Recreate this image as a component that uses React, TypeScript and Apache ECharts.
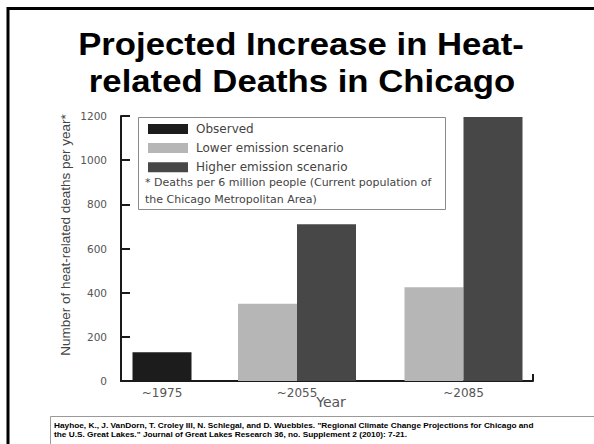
import React, { useEffect, useRef } from "react";
import * as echarts from "echarts";

// ---- data ----
const categories = ["~1975", "~2055", "~2085"];
const seriesNames = ["Observed", "Lower emission scenario", "Higher emission scenario"];
const observed = [130, null, null];
const lowerEmission = [null, 350, 425];
const higherEmission = [null, 710, 1195];
const yTicks = [0, 200, 400, 600, 800, 1000, 1200];

const titleLines = ["Projected Increase in Heat-", "related Deaths in Chicago"];
const noteLines = [
  "* Deaths per 6 million people (Current population of",
  "the Chicago Metropolitan Area)",
];
const citationLines = [
  'Hayhoe, K., J. VanDorn, T. Croley III, N. Schlegal, and D. Wuebbles. "Regional Climate Change Projections for Chicago and',
  'the U.S. Great Lakes." Journal of Great Lakes Research 36, no. Supplement 2 (2010): 7-21.',
];
const yAxisName = "Number of heat-related deaths per year*";
const xAxisName = "Year";

// ---- layout (not data) ----
const AXIS_SPAN = 412; // x axis length in axis units (px)
const slotPos = [41, 176, 342.5]; // group centres along the x axis
const BAR_W = 59;

const colors = ["#1c1c1c", "#b6b6b6", "#474747"];

export default function App() {
  const ref = useRef<HTMLDivElement>(null);

  useEffect(() => {
    if (!ref.current) return;
    const chart = echarts.init(ref.current, undefined, { renderer: "svg" });

    const obsData = observed
      .map((v, i) => (v == null ? null : [slotPos[i], v]))
      .filter((d) => d !== null);
    const lowData = lowerEmission
      .map((v, i) => (v == null ? null : [slotPos[i] - BAR_W / 2, v]))
      .filter((d) => d !== null);
    const highData = higherEmission
      .map((v, i) => (v == null ? null : [slotPos[i] + BAR_W / 2, v]))
      .filter((d) => d !== null);

    const chartFont = "DejaVu Sans";

    const option: any = {
      animation: false,
      backgroundColor: "#ffffff",
      grid: { left: 121, top: 116, width: AXIS_SPAN, bottom: 63, containLabel: false },
      legend: {
        show: true,
        orient: "vertical",
        left: 143,
        top: 118,
        itemWidth: 40,
        itemHeight: 10,
        itemGap: 7.1,
        icon: "rect",
        data: seriesNames,
        textStyle: {
          fontFamily: chartFont,
          fontSize: 12,
          color: "#444",
          padding: [0, 0, 0, 3],
        },
      },
      xAxis: {
        type: "value",
        min: 0,
        max: AXIS_SPAN,
        splitLine: { show: false },
        axisLine: { show: true, onZero: false, lineStyle: { color: "#1a1a1a", width: 2 } },
        axisTick: {
          show: true,
          inside: true,
          length: 7,
          customValues: [AXIS_SPAN],
          lineStyle: { color: "#1a1a1a", width: 2 },
        },
        axisLabel: {
          show: true,
          customValues: slotPos,
          margin: 6,
          fontFamily: chartFont,
          fontSize: 12,
          color: "#555",
          formatter: (v: number) => {
            const i = slotPos.findIndex((p) => Math.abs(p - v) < 0.01);
            return i >= 0 ? categories[i] : "";
          },
        },
        name: xAxisName,
        nameLocation: "middle",
        nameGap: 14,
        nameMoveOverlap: false,
        nameTextStyle: {
          fontFamily: chartFont,
          fontSize: 14,
          color: "#555",
          padding: [0, 0, 0, 8],
        },
      },
      yAxis: {
        type: "value",
        min: yTicks[0],
        max: yTicks[yTicks.length - 1],
        interval: 200,
        splitLine: { show: false },
        axisLine: { show: true, lineStyle: { color: "#1a1a1a", width: 2 } },
        axisTick: { show: true, inside: true, length: 9, lineStyle: { color: "#1a1a1a", width: 2 } },
        axisLabel: {
          margin: 14,
          fontFamily: chartFont,
          fontSize: 10.5,
          color: "#555",
          formatter: (v: number) => String(v),
        },
      },
      series: [
        {
          name: seriesNames[0],
          type: "bar",
          data: obsData,
          barWidth: BAR_W,
          barGap: "-100%",
          itemStyle: { color: colors[0] },
        },
        {
          name: seriesNames[1],
          type: "bar",
          data: lowData,
          barWidth: BAR_W,
          barGap: "-100%",
          itemStyle: { color: colors[1] },
        },
        {
          name: seriesNames[2],
          type: "bar",
          data: highData,
          barWidth: BAR_W,
          barGap: "-100%",
          itemStyle: { color: colors[2] },
        },
      ],
      graphic: [
        // slide frame
        {
          type: "rect",
          silent: true,
          shape: { x: 8, y: 8.5, width: 800, height: 600 },
          style: { fill: "none", stroke: "#000", lineWidth: 3 },
        },
        // title
        {
          type: "text",
          x: 301,
          y: 44.3,
          scaleX: 1.12,
          style: {
            text: titleLines[0],
            font: 'bold 31px "Liberation Sans"',
            fill: "#000",
            align: "center",
            verticalAlign: "middle",
          },
        },
        {
          type: "text",
          x: 302,
          y: 81,
          scaleX: 1.12,
          style: {
            text: titleLines[1],
            font: 'bold 31px "Liberation Sans"',
            fill: "#000",
            align: "center",
            verticalAlign: "middle",
          },
        },
        // legend box
        {
          type: "rect",
          silent: true,
          z: 1,
          shape: { x: 138.5, y: 117.5, width: 307, height: 92 },
          style: { fill: "none", stroke: "#8a8a8a", lineWidth: 1 },
        },
        {
          type: "text",
          x: 145,
          y: 182,
          style: {
            text: noteLines[0],
            font: '11px "DejaVu Sans"',
            fill: "#444",
            align: "left",
            verticalAlign: "middle",
          },
        },
        {
          type: "text",
          x: 145,
          y: 199.3,
          style: {
            text: noteLines[1],
            font: '11px "DejaVu Sans"',
            fill: "#444",
            align: "left",
            verticalAlign: "middle",
          },
        },
        // y axis name
        {
          type: "text",
          x: 65,
          y: 235,
          rotation: Math.PI / 2,
          style: {
            text: yAxisName,
            font: '13.5px "Liberation Sans"',
            fill: "#444",
            align: "center",
            verticalAlign: "middle",
          },
        },
        // citation box
        {
          type: "rect",
          silent: true,
          shape: { x: 50.5, y: 416.5, width: 600, height: 60 },
          style: { fill: "none", stroke: "#9a9a9a", lineWidth: 1 },
        },
        {
          type: "text",
          x: 54,
          y: 425.7,
          scaleX: 1.035,
          style: {
            text: citationLines[0],
            font: 'bold 8px "Liberation Sans"',
            fill: "#000",
            align: "left",
            verticalAlign: "middle",
          },
        },
        {
          type: "text",
          x: 54,
          y: 434.4,
          scaleX: 1.035,
          style: {
            text: citationLines[1],
            font: 'bold 8px "Liberation Sans"',
            fill: "#000",
            align: "left",
            verticalAlign: "middle",
          },
        },
      ],
    };

    chart.setOption(option);
    return () => chart.dispose();
  }, []);

  return (
    <div
      ref={ref}
      style={{
        position: "absolute",
        left: 0,
        top: 0,
        width: 594,
        height: 444,
        background: "#fff",
      }}
    />
  );
}
